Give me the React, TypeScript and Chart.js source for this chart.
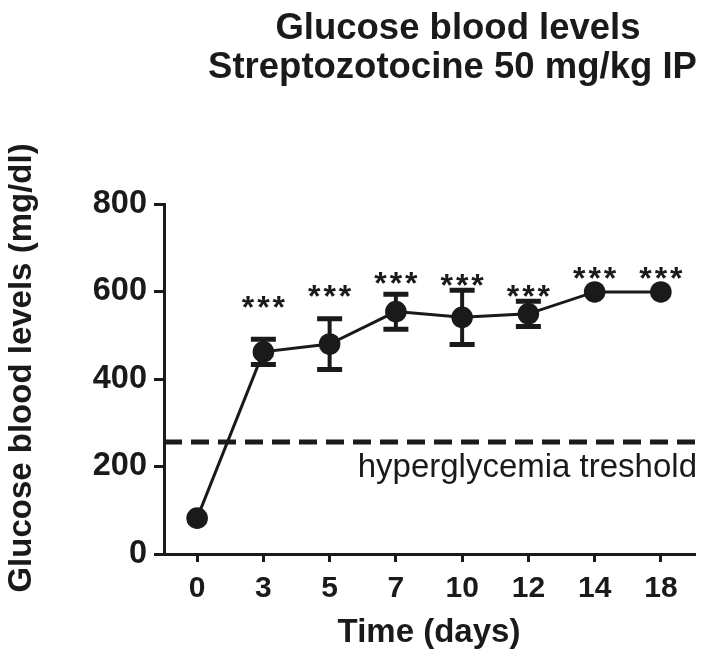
import React, { useEffect, useRef } from "react";
import { Chart, registerables } from "chart.js";

Chart.register(...registerables);

const days = ["0", "3", "5", "7", "10", "12", "14", "18"];
const glucoseMean = [82, 462, 480, 554, 541, 549, 599, 599];
const glucoseSem = [0, 29, 58, 40, 62, 29, 0, 0];
const starLabels = ["", "***", "***", "***", "***", "***", "***", "***"];
const starLevels = [0, 580, 606, 635, 631, 605, 648, 648];
const yMin = 0;
const yMax = 800;
const yStep = 200;
const thresholdValue = 256;
const thresholdLabel = "hyperglycemia treshold";
const titleLines = ["Glucose blood levels", "Streptozotocine 50 mg/kg IP"];
const yAxisTitle = "Glucose blood levels (mg/dl)";
const xAxisTitle = "Time (days)";

const FONT = "'Liberation Sans', Arial, Helvetica, sans-serif";
const INK = "#1a1a1a";
const W = 697;
const H = 643;

const annotations = {
  id: "annotations",
  beforeDatasetsDraw(chart: any) {
    const { ctx, chartArea, scales } = chart;
    const x = scales.x;
    const y = scales.y;
    ctx.save();
    // threshold dashed line
    const ty = y.getPixelForValue(thresholdValue);
    ctx.strokeStyle = INK;
    ctx.lineWidth = 5;
    ctx.setLineDash([18, 9]);
    ctx.beginPath();
    ctx.moveTo(chartArea.left, ty);
    ctx.lineTo(W - 1, ty);
    ctx.stroke();
    ctx.setLineDash([]);
    // error bars
    glucoseMean.forEach((m, i) => {
      const e = glucoseSem[i];
      if (!e) return;
      const px = x.getPixelForValue(i);
      const top = y.getPixelForValue(m + e);
      const bot = y.getPixelForValue(m - e);
      ctx.lineWidth = 4;
      ctx.beginPath();
      ctx.moveTo(px, top);
      ctx.lineTo(px, bot);
      ctx.stroke();
      ctx.lineWidth = 5;
      ctx.beginPath();
      ctx.moveTo(px - 12.5, top);
      ctx.lineTo(px + 12.5, top);
      ctx.moveTo(px - 12.5, bot);
      ctx.lineTo(px + 12.5, bot);
      ctx.stroke();
    });
    ctx.restore();
  },
  afterDraw(chart: any) {
    const { ctx, chartArea, scales } = chart;
    const x = scales.x;
    const y = scales.y;
    ctx.save();
    ctx.fillStyle = INK;
    // stars
    ctx.font = `bold 32px ${FONT}`;
    (ctx as any).letterSpacing = "3px";
    ctx.textAlign = "center";
    ctx.textBaseline = "alphabetic";
    starLabels.forEach((s, i) => {
      if (!s) return;
      const px = x.getPixelForValue(i);
      const py = y.getPixelForValue(starLevels[i]);
      ctx.fillText(s, px + 1.5, py + 18);
    });
    (ctx as any).letterSpacing = "0px";
    // threshold label
    ctx.font = `33px ${FONT}`;
    ctx.textAlign = "right";
    ctx.fillText(thresholdLabel, W - 8, y.getPixelForValue(thresholdValue) + 35);
    // title
    ctx.font = `bold 36.5px ${FONT}`;
    ctx.textAlign = "center";
    ctx.fillText(titleLines[0], 450, 31);
    ctx.fillText(titleLines[1], 444.5, 70);
    // x axis title
    ctx.font = `bold 33px ${FONT}`;
    ctx.textBaseline = "middle";
    ctx.fillText(xAxisTitle, (chartArea.left + chartArea.right) / 2, 625);
    // y axis title
    ctx.translate(14, 360);
    ctx.rotate(-Math.PI / 2);
    ctx.fillText(yAxisTitle, 0, 0);
    ctx.restore();
  },
};

export default function App() {
  const ref = useRef<HTMLCanvasElement | null>(null);
  useEffect(() => {
    if (!ref.current) return;
    const chart = new Chart(ref.current, {
      type: "line",
      data: {
        labels: days,
        datasets: [
          {
            data: glucoseMean,
            borderColor: INK,
            borderWidth: 3,
            backgroundColor: INK,
            pointBackgroundColor: INK,
            pointBorderColor: INK,
            pointRadius: 10.8,
            pointBorderWidth: 0,
            tension: 0,
          },
        ],
      },
      options: {
        responsive: false,
        animation: false,
        devicePixelRatio: 1,
        layout: { padding: { top: 196, right: 11, left: 0, bottom: 0 } },
        plugins: { legend: { display: false }, tooltip: { enabled: false }, title: { display: false } },
        scales: {
          x: {
            type: "category",
            offset: true,
            grid: { display: true, drawOnChartArea: false, offset: false, tickLength: 8, lineWidth: 3, color: INK },
            border: { display: true, width: 3, color: INK },
            ticks: { color: INK, padding: 9, font: { family: FONT, size: 30, weight: "bold" }, maxRotation: 0, autoSkip: false },
            afterFit: (s: any) => { s.height = 97; },
          },
          y: {
            min: yMin,
            max: yMax,
            grid: { display: true, drawOnChartArea: false, tickLength: 10, lineWidth: 3, color: INK },
            border: { display: true, width: 3, color: INK },
            ticks: { stepSize: yStep, color: INK, padding: 7, font: { family: FONT, size: 32.5, weight: "bold" } },
            afterFit: (s: any) => { s.width = 156; },
          },
        },
      },
      plugins: [annotations],
    });
    return () => chart.destroy();
  }, []);
  return (
    <div style={{ width: W, height: H }}>
      <canvas ref={ref} width={W} height={H} style={{ display: "block" }} />
    </div>
  );
}
